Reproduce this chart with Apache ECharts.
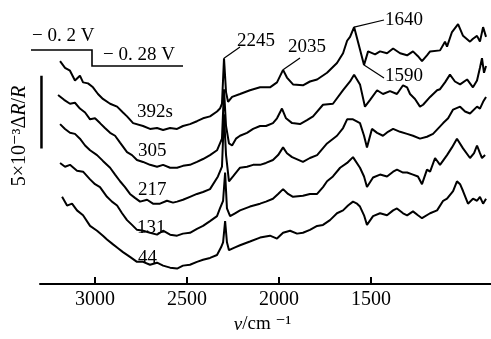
<!DOCTYPE html>
<html>
<head>
<meta charset="utf-8">
<script src="https://cdn.jsdelivr.net/npm/echarts@6/dist/echarts.min.js"></script>
<style>
  html, body { margin: 0; padding: 0; background: #fff; }
  #chart { width: 491px; height: 339px; }
</style>
</head>
<body>
<div id="chart"></div>
<script>
// wavenumber (cm^-1) and dR/R (x 10^-3, stacked)
const wn392 = [3190,3163,3136,3109,3082,3065,3038,3011,2984,2957,2918,2880,2848,2826,2793,2739,2701,2663,2630,2592,2554,2522,2484,2446,2413,2375,2337,2321,2310,2299,2288,2277,2255,2212,2158,2103,2049,2011,1978,1957,1924,1870,1832,1793,1739,1685,1652,1630,1614,1592,1571,1538,1516,1478,1451,1413,1380,1342,1304,1272,1245,1223,1196,1179,1125,1098,1087,1060,1027,1000,962,946,924,908,891,875];
const dr392 = [15.33,14.87,14.67,14.0,14.33,13.87,13.8,13.53,13.07,12.73,12.4,12.2,11.8,11.53,11.07,10.87,10.67,10.73,10.6,10.73,10.67,10.87,11.0,11.2,11.4,11.53,11.87,12.07,12.4,15.53,13.2,12.53,12.87,13.07,13.33,13.53,13.53,13.87,14.73,14.2,13.73,13.67,13.93,14.07,14.53,15.2,15.87,16.73,17.0,17.67,16.67,15.07,16.0,15.8,16.0,15.87,16.2,15.87,15.73,16.0,15.67,15.33,15.73,16.0,16.07,16.67,16.33,17.33,17.87,17.07,16.67,16.87,17.07,16.67,17.67,17.0];

const wn305 = [3201,3168,3136,3109,3082,3054,3027,3000,2973,2946,2918,2891,2864,2826,2799,2772,2739,2701,2663,2630,2592,2554,2522,2484,2446,2413,2375,2337,2310,2299,2288,2272,2255,2234,2212,2174,2141,2103,2071,2033,2011,1984,1962,1929,1886,1848,1815,1761,1707,1652,1614,1592,1560,1533,1505,1467,1435,1397,1359,1326,1304,1288,1261,1234,1217,1179,1141,1125,1098,1071,1044,1016,978,946,924,908,897,886,875];
const dr305 = [13.0,12.67,12.4,12.47,12.07,11.8,11.33,11.4,11.07,10.73,10.4,10.2,9.73,9.07,8.87,8.53,8.4,8.2,8.07,8.2,8.0,8.0,8.13,8.2,8.4,8.6,8.87,9.2,10.0,13.4,10.87,9.67,9.53,10.0,10.2,10.4,10.67,10.87,10.87,11.07,11.4,12.07,11.4,11.07,11.0,11.27,11.53,12.33,12.4,13.33,13.93,14.4,13.73,12.2,12.67,13.33,13.07,13.27,13.07,13.67,13.53,13.07,12.73,12.2,12.33,12.87,13.33,13.4,13.87,14.4,13.93,13.73,14.07,13.53,14.0,14.87,15.53,14.53,15.0];

const wn217 = [3190,3163,3136,3109,3082,3054,3027,2989,2957,2918,2891,2864,2837,2810,2783,2755,2717,2685,2647,2609,2576,2554,2522,2484,2446,2413,2375,2332,2310,2299,2288,2272,2250,2212,2174,2141,2103,2071,2033,2005,1978,1957,1929,1870,1832,1793,1739,1685,1652,1630,1598,1560,1538,1522,1495,1467,1435,1408,1380,1342,1304,1272,1234,1196,1163,1108,1081,1054,1016,989,962,924,908,891,875];
const dr217 = [11.0,10.67,10.4,10.33,10.0,9.53,9.2,8.87,8.47,8.0,7.53,7.07,6.67,6.2,5.93,5.67,5.8,5.53,5.53,5.73,5.6,5.67,5.8,6.0,6.2,6.33,6.53,7.4,8.07,11.67,8.87,7.07,7.4,8.0,8.07,8.2,8.2,8.33,8.53,8.87,9.4,9.0,8.73,8.4,8.67,8.87,9.67,10.2,10.73,11.33,11.33,11.07,10.2,9.4,10.67,10.4,10.2,10.47,10.67,10.47,10.33,10.2,10.0,10.13,10.33,11.07,11.4,12.0,12.2,11.87,11.73,12.2,12.07,12.53,12.87];

const wn131 = [3190,3163,3136,3098,3065,3027,3000,2973,2935,2908,2880,2853,2826,2799,2772,2739,2701,2663,2630,2592,2554,2522,2484,2446,2413,2375,2337,2321,2304,2293,2283,2266,2239,2212,2158,2103,2071,2033,2005,1978,1951,1924,1870,1832,1793,1761,1739,1707,1668,1630,1598,1560,1538,1522,1489,1451,1413,1380,1359,1326,1304,1272,1245,1223,1196,1179,1152,1125,1087,1060,1033,1000,962,940,924,908,897,880];
const dr131 = [8.33,8.07,8.2,7.8,7.73,7.2,6.87,6.67,6.0,5.67,5.4,4.87,4.4,4.07,3.73,3.67,3.53,3.4,3.67,3.4,3.33,3.47,3.53,3.8,4.0,4.33,4.67,5.2,5.73,7.67,5.2,4.67,4.87,5.07,5.33,5.53,5.67,5.87,6.2,6.53,6.2,6.0,6.07,6.2,6.2,6.67,7.07,7.4,8.0,8.33,8.73,8.0,7.4,6.67,7.33,7.53,7.4,7.73,7.87,7.67,7.67,7.53,7.4,6.87,7.87,7.73,8.67,8.2,8.87,9.4,10.0,9.33,8.67,9.0,9.53,9.0,8.67,8.87];

const wn44 = [3179,3152,3125,3098,3065,3027,2989,2957,2935,2902,2875,2848,2810,2772,2739,2701,2663,2630,2592,2554,2522,2484,2446,2413,2375,2337,2315,2304,2293,2283,2272,2239,2212,2158,2103,2049,2011,1978,1940,1902,1870,1832,1793,1761,1723,1685,1652,1625,1598,1576,1560,1538,1522,1489,1451,1413,1380,1359,1326,1304,1272,1245,1223,1179,1141,1108,1087,1054,1033,1016,1000,973,946,924,908,891,875];
const dr44 = [6.0,5.4,5.53,5.07,4.73,4.0,3.67,3.33,3.07,2.73,2.47,2.2,1.87,1.53,1.53,1.33,1.47,1.27,1.13,1.07,1.27,1.33,1.53,1.67,1.8,2.0,2.53,2.87,4.33,2.87,2.33,2.53,2.67,2.93,3.2,3.33,3.13,3.53,3.67,3.47,3.53,3.73,4.0,4.07,4.4,4.87,5.07,5.4,5.67,5.53,5.33,4.73,4.07,4.67,4.87,4.73,5.07,5.2,4.87,4.73,5.0,4.73,4.53,4.87,5.07,5.73,5.87,6.4,7.07,6.87,6.4,5.53,5.87,5.73,6.0,5.53,5.87];

const timeLabels = ['392s', '305', '217', '131', '44'];
const xTicks = [3000, 2500, 2000, 1500];
const peakLabels = ['2245', '2035', '1640', '1590'];
// where each peak label's leader touches the top (392 s) spectrum
const peakAt = [2299, 1978, 1592, 1538];
const potentialLabels = ['\u2212 0. 2 V', '\u2212 0. 28 V'];
const scaleBar = 5;        // 5 x 10^-3 dR/R
const scaleBarBase = 9.33;
const scaleBarWn = 3291;

const FONT = '"Liberation Serif", "DejaVu Serif", serif';

const curves = [
  [wn392, dr392], [wn305, dr305], [wn217, dr217], [wn131, dr131], [wn44, dr44]
];

const chart = echarts.init(document.getElementById('chart'), null, { renderer: 'canvas' });

const option = {
  animation: false,
  backgroundColor: '#fff',
  grid: { left: 40, right: 0, top: 0, bottom: 46, containLabel: false },
  xAxis: {
    type: 'value',
    inverse: true,
    min: 848,
    max: 3299,
    name: '{i|\u03bd}{n|/cm \u207b\u00b9}',
    nameLocation: 'middle',
    nameGap: 24,
    nameTextStyle: {
      padding: [0, 6, 0, 0],
      rich: {
        i: { fontFamily: FONT, fontSize: 19, fontStyle: 'italic', color: '#000' },
        n: { fontFamily: FONT, fontSize: 19, color: '#000' }
      }
    },
    axisLine: { show: true, lineStyle: { color: '#000', width: 2 } },
    axisTick: {
      show: true,
      inside: true,
      length: 7,
      customValues: xTicks,
      lineStyle: { color: '#000', width: 2 }
    },
    axisLabel: {
      customValues: xTicks,
      formatter: (v) => String(v),
      color: '#000',
      fontFamily: FONT,
      fontSize: 20,
      margin: 6
    },
    splitLine: { show: false }
  },
  yAxis: {
    type: 'value',
    min: 0,
    max: 293 / 15,
    show: false
  },
  series: curves.map(([wn, dr], k) => ({
    name: timeLabels[k],
    type: 'line',
    data: wn.map((w, i) => [w, dr[i]]),
    showSymbol: false,
    symbol: 'none',
    silent: true,
    lineStyle: { color: '#000', width: 2 }
  })).concat([{
    name: 'scale',
    type: 'line',
    data: [[scaleBarWn, scaleBarBase], [scaleBarWn, scaleBarBase + scaleBar]],
    showSymbol: false,
    symbol: 'none',
    silent: true,
    lineStyle: { color: '#000', width: 2.5 }
  }])
};

chart.setOption(option);

const toPx = (w, v) => chart.convertToPixel({ seriesIndex: 0 }, [w, v]);
const txt = (text, x, y, size) => ({
  type: 'text',
  x: x, y: y,
  style: { text: text, fill: '#000', font: (size || 19) + 'px ' + FONT, align: 'left', verticalAlign: 'middle' }
});
const line = (p1, p2, w) => ({
  type: 'line',
  shape: { x1: p1[0], y1: p1[1], x2: p2[0], y2: p2[1] },
  style: { stroke: '#000', lineWidth: w || 1 }
});

const graphics = [];

// make sure the upward tick marks show on the wavenumber axis
xTicks.forEach((t) => {
  const p = toPx(t, 0);
  graphics.push(line([p[0], p[1]], [p[0], p[1] - 7], 2));
});

// time labels above each spectrum
const timePos = [[137, 112], [138, 151], [138, 190], [137, 228], [138, 258]];
timeLabels.forEach((t, i) => graphics.push(txt(t, timePos[i][0], timePos[i][1])));

// peak labels with leader lines to the top spectrum
const peakText = [[237, 41], [288, 47], [385, 20], [385, 76]];
const leaderEnd = [[240, 47], [300, 58], [384, 20], [384, 78]];
peakLabels.forEach((p, i) => {
  const idx = wn392.indexOf(peakAt[i]);
  const start = toPx(wn392[idx], dr392[idx]);
  graphics.push(line(start, leaderEnd[i], 1.2));
  graphics.push(txt(p, peakText[i][0], peakText[i][1]));
});

// potential step
graphics.push({
  type: 'polyline',
  shape: { points: [[31, 50], [92, 50], [92, 66], [183, 66]] },
  style: { stroke: '#000', lineWidth: 1.6, fill: null }
});
graphics.push(txt(potentialLabels[0], 32, 36));
graphics.push(txt(potentialLabels[1], 103, 55));

// y label (rotated)
graphics.push({
  type: 'text',
  x: 20, y: 136,
  rotation: Math.PI / 2,
  style: {
    text: '{n|5\u00d710\u207b\u00b3\u0394}{i|R}{n|/}{i|R}',
    align: 'center',
    verticalAlign: 'middle',
    rich: {
      n: { fontFamily: FONT, fontSize: 20, fill: '#000' },
      i: { fontFamily: FONT, fontSize: 20, fontStyle: 'italic', fill: '#000' }
    }
  }
});

chart.setOption({ graphic: graphics });
</script>
</body>
</html>
